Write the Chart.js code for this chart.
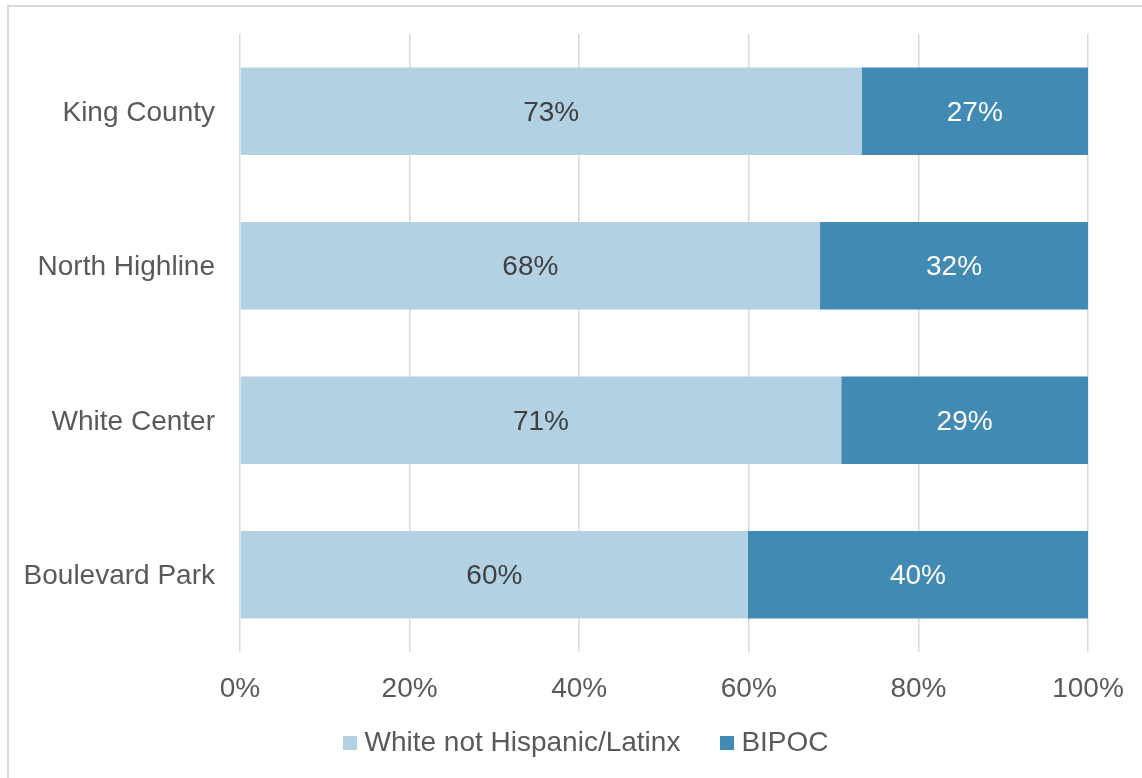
<!DOCTYPE html>
<html><head><meta charset="utf-8">
<script src="https://cdn.jsdelivr.net/npm/chart.js@4/dist/chart.umd.min.js"></script>
<style>
html,body{margin:0;padding:0;background:#fff;overflow:hidden;width:1142px;height:778px}
#frame{position:absolute;left:7px;top:5px;width:1200px;height:900px;border:2px solid #d9d9d9;box-sizing:border-box}
#wrap{position:absolute;left:0;top:0;width:1142px;height:778px}
</style></head>
<body><div id="frame"></div><div id="wrap"><canvas id="c" width="1142" height="778"></canvas></div>
<script>
const categories = ['King County', 'North Highline', 'White Center', 'Boulevard Park'];
const seriesNames = ['White not Hispanic/Latinx', 'BIPOC'];
const whiteNotHispanic = [73.3, 68.4, 70.9, 59.9];
const bipoc = [26.7, 31.6, 29.1, 40.1];
const tickValues = [0, 20, 40, 60, 80, 100];
const seriesColors = ['#b2d1e2', '#418ab3'];

const FONT = 'Liberation Sans, Arial, sans-serif';
const TEXT = '#595959';

function swatch(color) {
  const c = document.createElement('canvas');
  c.width = 14; c.height = 14;
  const g = c.getContext('2d');
  g.fillStyle = color;
  g.fillRect(0, 0, 14, 14);
  return c;
}
const swatches = seriesColors.map(swatch);

const barLabels = {
  id: 'barLabels',
  afterDatasetsDraw(chart) {
    const ctx = chart.ctx;
    ctx.save();
    ctx.font = '28px ' + FONT;
    ctx.textAlign = 'center';
    ctx.textBaseline = 'middle';
    chart.data.datasets.forEach((ds, di) => {
      const meta = chart.getDatasetMeta(di);
      meta.data.forEach((el, i) => {
        const p = el.getProps(['x', 'y', 'base'], true);
        ctx.fillStyle = di === 0 ? '#404040' : '#ffffff';
        ctx.fillText(Math.round(ds.data[i]) + '%', (p.x + p.base) / 2, p.y + 2);
      });
    });
    ctx.restore();
  }
};

const legendPlace = {
  id: 'legendPlace',
  afterLayout(chart) {
    const lg = chart.legend;
    if (!lg) return;
    lg.left += 36;
    lg.top -= 22;
    lg.bottom = chart.height;
  }
};

new Chart(document.getElementById('c'), {
  type: 'bar',
  data: {
    labels: categories,
    datasets: [
      { label: seriesNames[0], data: whiteNotHispanic, backgroundColor: seriesColors[0], borderWidth: 0, xAxisID: 'x', yAxisID: 'y' },
      { label: seriesNames[1], data: bipoc, backgroundColor: seriesColors[1], borderWidth: 0, xAxisID: 'x', yAxisID: 'y' }
    ]
  },
  options: {
    indexAxis: 'y',
    responsive: false,
    animation: false,
    events: [],
    datasets: { bar: { barPercentage: 1, categoryPercentage: 0.565 } },
    layout: { padding: { left: 0, right: 0, top: 34, bottom: 10 } },
    plugins: {
      legend: {
        position: 'bottom',
        maxHeight: 63,
        labels: {
          color: TEXT,
          font: { family: FONT, size: 28 },
          usePointStyle: true,
          boxWidth: 1, boxHeight: 14,
          padding: 46,
          generateLabels(chart) {
            const items = Chart.defaults.plugins.legend.labels.generateLabels(chart);
            items.forEach((it, i) => { it.pointStyle = swatches[i]; });
            return items;
          }
        }
      },
      tooltip: { enabled: false },
      title: { display: false }
    },
    scales: {
      x: {
        stacked: true,
        min: 0, max: 100,
        afterBuildTicks(scale) { scale.ticks = tickValues.map(v => ({ value: v })); },
        afterFit(scale) { scale.height = 53; scale.paddingLeft = 0; scale.paddingRight = 0; },
        ticks: {
          color: TEXT,
          font: { family: FONT, size: 28 },
          padding: 20,
          callback: v => v + '%'
        },
        grid: { color: '#d9d9d9', lineWidth: 1.5, drawTicks: false },
        border: { display: false }
      },
      y: {
        stacked: true,
        position: 'left',
        afterFit(scale) { scale.width = 240; scale.paddingTop = 0; scale.paddingBottom = 0; },
        ticks: {
          color: TEXT,
          font: { family: FONT, size: 28 },
          padding: 25,
          labelOffset: 2
        },
        grid: { display: false, drawTicks: false },
        border: { display: false }
      },
      yRight: {
        type: 'category',
        position: 'right',
        afterFit(scale) { scale.width = 54; scale.paddingTop = 0; scale.paddingBottom = 0; },
        ticks: { display: false },
        grid: { display: false, drawTicks: false },
        border: { display: false }
      }
    }
  },
  plugins: [barLabels, legendPlace]
});
</script>
</body></html>
